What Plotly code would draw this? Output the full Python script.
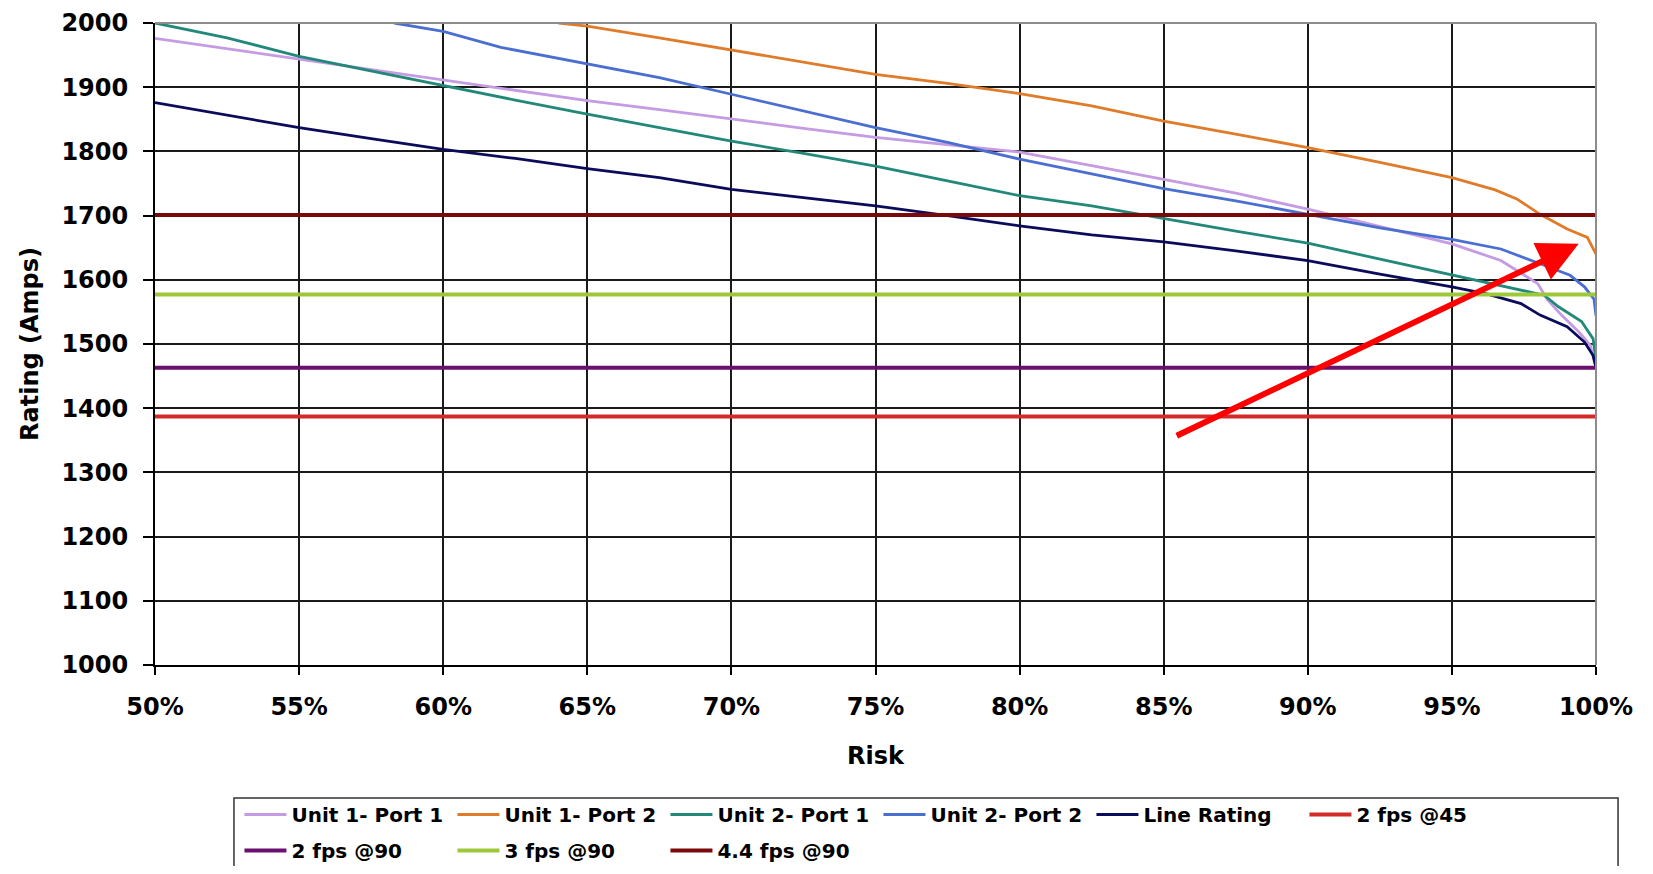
import plotly.graph_objects as go

# Risk (%) and rating (Amps)
u1p1_x = [50, 52.5, 55, 57.5, 60, 62.5, 65, 67.5, 70, 72.5, 75, 77.5, 80, 82.5, 85,
          87.5, 90, 92.5, 95, 96.7, 97.25, 97.98, 98.3, 98.8, 99.4, 99.8, 100]
u1p1_y = [1976, 1960, 1943, 1927, 1912, 1895, 1879, 1865, 1850, 1836, 1822, 1811, 1799, 1778, 1757,
          1735, 1710, 1683, 1656, 1630, 1614, 1594, 1570, 1545, 1519, 1498, 1463]

u1p2_x = [64.0, 65, 67.5, 70, 72.5, 75, 77.5, 80, 82.5, 85, 87.5, 90, 92.5, 95,
          96.5, 97.25, 98.06, 99.0, 99.7, 100]
u1p2_y = [2000, 1995, 1977, 1958, 1940, 1920, 1906, 1890, 1871, 1847, 1827, 1806, 1783, 1759,
          1740, 1726, 1702, 1679, 1666, 1640]

u2p1_x = [50, 52.5, 55, 57.5, 60, 62.5, 65, 67.5, 70, 72.5, 75, 77.5, 80, 82.5, 85,
          87.5, 90, 92.5, 95, 96.7, 98.2, 98.7, 99.5, 99.9, 100]
u2p1_y = [2000, 1977, 1948, 1925, 1902, 1880, 1858, 1837, 1816, 1797, 1777, 1754, 1731, 1715, 1695,
          1676, 1657, 1632, 1608, 1591, 1576, 1558, 1535, 1508, 1474]

u2p2_x = [58.3, 60, 62, 65, 67.5, 70, 72.5, 75, 77.5, 80, 82.5, 85, 87.5, 90, 92.5, 95,
          96.7, 98.06, 99.1, 99.6, 99.93, 100]
u2p2_y = [2000, 1987, 1962, 1937, 1915, 1889, 1863, 1837, 1814, 1788, 1765, 1742, 1723, 1702, 1681, 1663,
          1648, 1625, 1607, 1589, 1570, 1544]

line_x = [50, 52.5, 55, 57.5, 60, 62.5, 65, 67.5, 70, 72.5, 75, 77.5, 80, 82.5, 85,
          87.5, 90, 92.5, 95, 96.2, 97.4, 98.06, 99.0, 99.6, 99.9, 100]
line_y = [1876, 1857, 1837, 1820, 1803, 1789, 1773, 1759, 1741, 1728, 1715, 1700, 1684, 1670, 1659,
          1645, 1630, 1609, 1589, 1578, 1563, 1545, 1527, 1503, 1482, 1463]

flat_x = [50, 100]
flat_names = ['2 fps @45', '2 fps @90', '3 fps @90', '4.4 fps @90']
flat_values = [1387, 1463, 1577, 1701]

x_ticks = [50, 55, 60, 65, 70, 75, 80, 85, 90, 95, 100]
x_tick_labels = ['50%', '55%', '60%', '65%', '70%', '75%', '80%', '85%', '90%', '95%', '100%']
y_ticks = [1000, 1100, 1200, 1300, 1400, 1500, 1600, 1700, 1800, 1900, 2000]

# arrow drawn on the chart (tail -> tip)
arrow_tail = (85.4, 1356)
arrow_tip = (99.4, 1656)

COLORS = {
    'Unit 1- Port 1': '#C59BE3',
    'Unit 1- Port 2': '#E07B2A',
    'Unit 2- Port 1': '#22897A',
    'Unit 2- Port 2': '#4A6FD0',
    'Line Rating': '#0B0B5C',
    '2 fps @45': '#D42A2A',
    '2 fps @90': '#6A1070',
    '3 fps @90': '#9DC83A',
    '4.4 fps @90': '#7A0A0A',
}
FONT = 'DejaVu Sans'

fig = go.Figure()

curves = [
    ('Unit 1- Port 1', u1p1_x, u1p1_y),
    ('Unit 1- Port 2', u1p2_x, u1p2_y),
    ('Unit 2- Port 1', u2p1_x, u2p1_y),
    ('Unit 2- Port 2', u2p2_x, u2p2_y),
    ('Line Rating', line_x, line_y),
]
for name, xs, ys in curves:
    fig.add_trace(go.Scatter(
        x=xs, y=ys, mode='lines', name=name,
        line=dict(color=COLORS[name], width=2.8),
        legend='legend'
    ))

for i, (name, val) in enumerate(zip(flat_names, flat_values)):
    fig.add_trace(go.Scatter(
        x=flat_x, y=[val] * len(flat_x), mode='lines', name=name,
        line=dict(color=COLORS[name], width=4),
        legend='legend' if i == 0 else 'legend2'
    ))

fig.add_annotation(
    x=arrow_tip[0], y=arrow_tip[1], ax=arrow_tail[0], ay=arrow_tail[1],
    xref='x', yref='y', axref='x', ayref='y', text='',
    showarrow=True, arrowhead=2, arrowsize=1.35, arrowwidth=6, arrowcolor='#FF0000'
)

# grey frame on top and right, box around legend
fig.add_shape(type='line', xref='paper', yref='paper', x0=0, x1=1, y0=1, y1=1,
              line=dict(color='#8C8C8C', width=2), layer='above')
fig.add_shape(type='line', xref='paper', yref='paper', x0=1, x1=1, y0=0, y1=1,
              line=dict(color='#8C8C8C', width=2), layer='above')
fig.add_shape(type='rect', xref='paper', yref='paper', x0=0.0548, x1=1.0153, y0=-0.40, y1=-0.207,
              line=dict(color='#333333', width=1.5), fillcolor='rgba(0,0,0,0)')

legend_common = dict(
    orientation='h', xanchor='left', yanchor='top',
    font=dict(family=FONT, size=20, color='#000000', weight='bold'),
    bgcolor='rgba(0,0,0,0)', borderwidth=0,
    itemwidth=42, entrywidth=156, itemclick=False
)

# the page body adds an 8px margin, so the figure is a little smaller than the window
fig.update_layout(
    width=1637, height=858,
    plot_bgcolor='#FFFFFF', paper_bgcolor='#FFFFFF',
    font=dict(family=FONT, color='#000000'),
    margin=dict(l=147, r=49, t=15, b=201, autoexpand=False),
    showlegend=True,
    legend=dict(x=0.0586, y=-0.2025, **legend_common),
    legend2=dict(x=0.0586, y=-0.2585, **legend_common),
)

fig.update_xaxes(
    range=[50, 100], tickvals=x_ticks, ticktext=x_tick_labels,
    showgrid=True, gridcolor='#1A1A1A', gridwidth=1.5,
    showline=True, linecolor='#000000', linewidth=2,
    ticks='outside', ticklen=8, tickcolor='#000000', tickwidth=1.5,
    ticklabelstandoff=11,
    tickfont=dict(family=FONT, size=24, color='#000000', weight='bold'),
    title=dict(text='Risk', standoff=27,
               font=dict(family=FONT, size=24, color='#000000', weight='bold')),
    zeroline=False
)
fig.update_yaxes(
    range=[1000, 2000], tickvals=y_ticks,
    showgrid=True, gridcolor='#1A1A1A', gridwidth=1.5,
    showline=True, linecolor='#000000', linewidth=2,
    ticks='outside', ticklen=10, tickcolor='#000000', tickwidth=1.5,
    ticklabelstandoff=10,
    tickfont=dict(family=FONT, size=24, color='#000000', weight='bold'),
    title=dict(text='Rating (Amps)', standoff=16,
               font=dict(family=FONT, size=24, color='#000000', weight='bold')),
    zeroline=False
)

fig.write_html("out.html")
